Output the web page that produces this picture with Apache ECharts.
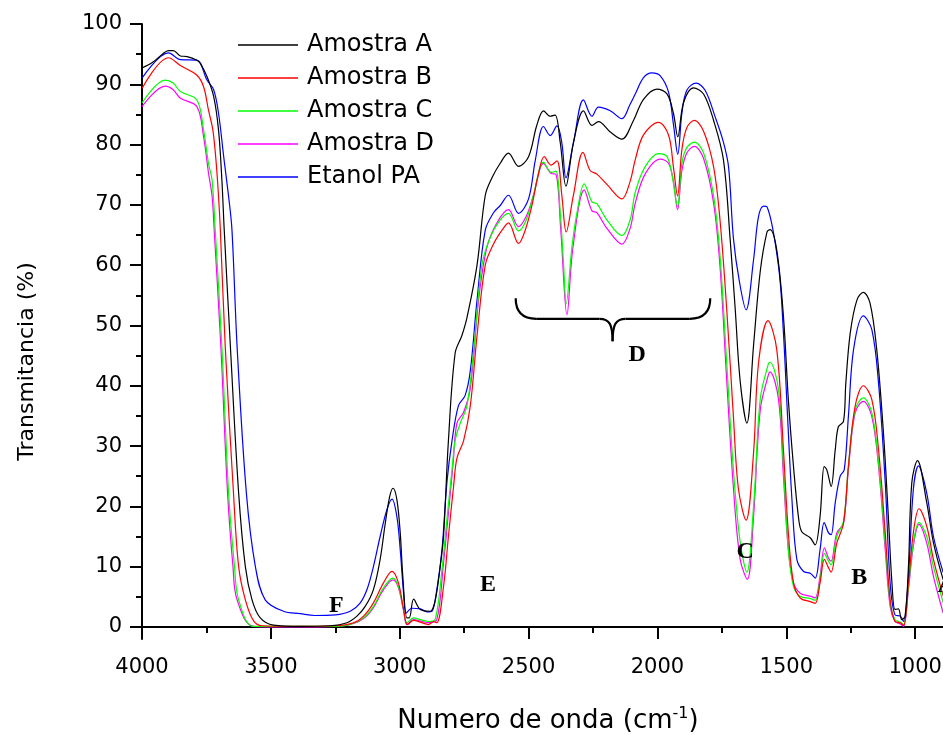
<!DOCTYPE html>
<html>
<head>
<meta charset="utf-8">
<script src="https://cdn.jsdelivr.net/npm/echarts@6/dist/echarts.min.js"></script>
<style>
  html, body { margin: 0; padding: 0; background: #fff; }
  #chart { width: 943px; height: 735px; }
</style>
</head>
<body>
<div id="chart"></div>
<script>
// espectros FTIR: [numero de onda, transmitancia]
var amostraA = [[4000,92.7],[3960,93.6],[3921,95.0],[3897,95.6],[3879,95.6],[3851,94.7],[3825,94.6],[3787,94.0],[3774,93.5],[3748,91.3],[3722,88.0],[3703,82.4],[3690,74.1],[3681,65.9],[3657,46.5],[3625,22.2],[3599,10.0],[3573,4.5],[3541,1.5],[3490,0.3],[3386,0.1],[3270,0.2],[3205,0.7],[3166,1.8],[3134,3.4],[3102,6.2],[3076,11.2],[3056,17.2],[3039,21.6],[3026,23.0],[3011,21.1],[2998,15.6],[2988,8.4],[2972,1.5],[2963,1.5],[2946,4.6],[2920,2.9],[2882,2.6],[2862,4.5],[2843,10],[2830,15],[2811,30.9],[2785,45.4],[2759,48.3],[2739,51.3],[2700,60.0],[2668,71.6],[2642,74.5],[2610,76.9],[2578,78.6],[2539,76.4],[2500,78.0],[2468,83.2],[2442,85.6],[2416,84.7],[2397,84.9],[2377,80.3],[2355,73.1],[2326,80.3],[2287,85.6],[2254,83.2],[2229,83.8],[2183,82.1],[2138,80.9],[2093,84.0],[2054,87.5],[2002,89.2],[1963,88.4],[1938,85.2],[1921,81.3],[1899,86.9],[1860,89.4],[1821,88.4],[1782,84.0],[1744,77.5],[1718,64.4],[1698,52.6],[1679,40.8],[1653,33.8],[1627,46.7],[1601,59.0],[1575,65.5],[1563,65.9],[1537,62.5],[1511,51.5],[1492,37.7],[1472,26.6],[1453,18.3],[1440,15.8],[1407,14.8],[1388,13.6],[1369,18.3],[1353,26.6],[1343,26.1],[1326,23.3],[1310,29.4],[1298,33.2],[1278,34.1],[1269,40.4],[1252,48.7],[1226,54.2],[1201,55.5],[1175,53.7],[1149,46.0],[1123,32.2],[1104,18.3],[1090,7.3],[1078,2.9],[1065,3.0],[1052,1.2],[1039,1.8],[1026,10.0],[1013,23.9],[991,27.6],[955,20.6],[929,14.0],[891,7.8]];

var amostraB = [[4000,89.3],[3897,94.4],[3851,93.1],[3787,91.5],[3761,89.6],[3742,85.7],[3725,82.4],[3712,76.9],[3703,71.4],[3696,65.9],[3677,46.5],[3645,22.2],[3625,10.0],[3599,4.5],[3567,1.0],[3534,0.2],[3400,0.1],[3250,0.2],[3179,0.7],[3140,1.8],[3102,4.0],[3063,7.3],[3030,9.2],[3005,7.3],[2985,2.9],[2970,0.4],[2946,1.1],[2920,0.8],[2888,0.4],[2869,0.9],[2856,0.7],[2830,6.7],[2811,15.0],[2791,23.3],[2778,28.0],[2752,30.9],[2726,36.7],[2700,48.3],[2668,60.0],[2636,63.5],[2603,65.8],[2578,67.0],[2539,63.6],[2513,65.8],[2487,69.9],[2465,74.5],[2439,78.0],[2413,76.6],[2390,77.3],[2371,71.6],[2354,65.5],[2326,71.6],[2289,78.7],[2261,75.7],[2235,75.1],[2196,73.4],[2138,71.0],[2106,73.9],[2086,77.5],[2054,81.6],[1996,83.7],[1957,81.6],[1938,76.3],[1922,71.5],[1905,79.2],[1886,82.8],[1857,84.0],[1821,82.2],[1782,76.3],[1757,67.4],[1731,52.6],[1705,34.8],[1686,23.0],[1656,17.7],[1627,28.9],[1608,43.7],[1571,50.8],[1537,46.0],[1511,29.4],[1492,15.6],[1472,7.3],[1446,4.8],[1407,4.2],[1388,3.9],[1369,7.3],[1352,11.2],[1336,9.8],[1326,9.1],[1304,13.9],[1278,17.2],[1259,26.6],[1233,36.6],[1201,40.0],[1168,37.7],[1142,29.4],[1116,15.6],[1097,4.5],[1078,0.9],[1058,0.7],[1045,0.2],[1026,7.3],[1007,15.6],[985,19.6],[955,16.7],[929,11.2],[891,5.1]];

var amostraC = [[4000,86.9],[3910,90.7],[3879,90.2],[3851,88.8],[3787,87.4],[3761,82.4],[3742,76.9],[3728,74.1],[3716,65.9],[3690,46.5],[3664,22.2],[3641,10.0],[3625,4.5],[3567,0.1],[3400,0.1],[3250,0.1],[3192,0.4],[3140,1.5],[3102,3.4],[3063,6.5],[3026,8.1],[3005,6.7],[2985,2.9],[2972,0.7],[2946,1.5],[2920,1.2],[2888,0.9],[2862,1.3],[2836,9.5],[2817,17.8],[2797,26.1],[2785,30.9],[2765,33.8],[2739,36.7],[2714,45.4],[2681,60.0],[2649,64.6],[2610,67.5],[2578,68.6],[2539,65.7],[2509,67.5],[2481,71.6],[2442,77.1],[2412,75.4],[2394,75.6],[2377,68.7],[2364,60.0],[2354,53.6],[2332,62.9],[2312,68.7],[2284,73.5],[2254,70.5],[2235,70.2],[2196,67.5],[2138,64.9],[2106,67.5],[2086,72.1],[2048,76.3],[1996,78.5],[1963,78.0],[1944,75.1],[1922,69.8],[1905,76.9],[1886,79.5],[1857,80.4],[1821,78.6],[1782,71.5],[1757,61.5],[1731,43.7],[1705,26.0],[1679,14.1],[1653,9.1],[1627,20.0],[1601,37.8],[1569,43.7],[1563,43.9],[1530,39.3],[1511,26.6],[1492,12.8],[1472,6.7],[1446,5.1],[1407,4.7],[1388,4.4],[1369,7.8],[1352,12.2],[1336,10.9],[1326,10.3],[1304,15.0],[1278,17.5],[1259,26.6],[1233,36.0],[1201,38.0],[1168,35.5],[1142,27.2],[1116,13.9],[1097,4.0],[1078,1.2],[1058,0.8],[1045,0.4],[1026,6.7],[1007,13.9],[985,17.3],[955,15.0],[929,10.0],[891,4.0]];

var amostraD = [[4000,86.3],[3910,89.7],[3879,89.1],[3851,87.7],[3787,86.3],[3761,81.3],[3742,75.3],[3728,71.4],[3720,65.9],[3694,46.5],[3668,22.2],[3647,10.0],[3631,4.5],[3567,0.1],[3400,0.0],[3250,0.1],[3192,0.4],[3140,1.4],[3102,3.2],[3063,6.2],[3026,7.8],[3005,6.5],[2985,2.7],[2972,0.4],[2946,1.2],[2920,1.0],[2888,0.7],[2856,1.2],[2830,10.6],[2811,18.9],[2793,27.0],[2778,33.8],[2752,35.6],[2726,39.6],[2694,54.2],[2662,62.9],[2623,67.0],[2578,69.2],[2539,66.4],[2509,68.1],[2481,71.6],[2442,76.9],[2412,75.2],[2394,75.1],[2375,65.8],[2351,51.8],[2328,62.9],[2284,72.5],[2254,69.0],[2235,68.7],[2196,66.1],[2138,63.5],[2106,66.1],[2086,70.3],[2048,75.1],[1989,77.6],[1957,76.9],[1938,73.9],[1922,69.2],[1905,75.7],[1886,78.6],[1857,79.7],[1821,77.7],[1782,70.3],[1757,59.7],[1731,40.8],[1705,23.0],[1679,11.2],[1651,7.9],[1627,18.3],[1601,36.0],[1569,41.9],[1563,42.3],[1530,37.7],[1511,25.0],[1492,12.8],[1472,7.3],[1446,5.6],[1407,5.1],[1388,4.8],[1369,8.4],[1352,13.1],[1336,11.4],[1326,10.9],[1304,15.6],[1278,17.2],[1259,26.1],[1233,35.5],[1201,37.4],[1168,34.9],[1142,26.6],[1116,12.8],[1097,3.4],[1078,0.9],[1058,0.5],[1045,0.1],[1026,6.2],[1007,13.4],[985,17.0],[955,13.9],[929,8.4],[891,2.3]];

var etanolPA = [[4000,91.0],[3897,95.2],[3851,94.1],[3787,94.0],[3748,90.7],[3722,89.1],[3703,85.2],[3683,78.0],[3664,71.4],[3651,65.9],[3631,46.5],[3595,22.2],[3560,10.0],[3522,4.5],[3451,2.6],[3386,2.2],[3330,1.9],[3250,2.0],[3192,2.6],[3153,4.0],[3127,6.2],[3102,10.0],[3076,15.0],[3050,19.4],[3030,21.2],[3011,18.3],[2998,12.8],[2985,5.6],[2975,2.3],[2953,3.1],[2920,3.0],[2894,2.5],[2875,2.6],[2856,6.2],[2836,12.8],[2817,23.9],[2797,30.9],[2772,36.7],[2746,38.4],[2726,42.5],[2700,54.2],[2668,65.8],[2636,68.7],[2610,69.9],[2578,71.6],[2539,68.6],[2500,71.0],[2474,77.4],[2442,83.0],[2416,81.5],[2390,83.1],[2371,80.3],[2355,74.5],[2326,80.3],[2287,87.4],[2254,84.7],[2229,86.2],[2183,85.6],[2138,84.3],[2106,86.7],[2086,88.4],[2054,91.1],[2022,91.9],[1989,91.4],[1957,88.7],[1938,83.4],[1921,78.4],[1905,85.2],[1886,89.0],[1850,90.2],[1815,89.0],[1776,84.6],[1744,80.4],[1724,76.3],[1705,64.4],[1682,57.3],[1656,52.6],[1627,60.9],[1608,68.0],[1588,69.8],[1575,69.7],[1530,59.8],[1511,48.7],[1495,34.9],[1478,21.1],[1459,11.2],[1433,9.2],[1407,8.9],[1388,8.1],[1369,12.8],[1353,17.3],[1336,15.6],[1326,15.3],[1310,20.6],[1291,25.0],[1275,26.1],[1259,34.9],[1239,46.0],[1201,51.6],[1168,49.3],[1142,40.4],[1116,23.9],[1097,7.3],[1078,2.0],[1058,1.8],[1045,0.9],[1026,8.4],[1007,22.8],[987,26.7],[955,22.2],[929,15.0],[891,9.0]];

var seriesNames = ['Amostra A', 'Amostra B', 'Amostra C', 'Amostra D', 'Etanol PA'];
var seriesColors = ['#000000', '#ff0000', '#00ff00', '#ff00ff', '#0000ff'];
var seriesData = [amostraA, amostraB, amostraC, amostraD, etanolPA];

var yMajor = [0, 10, 20, 30, 40, 50, 60, 70, 80, 90, 100];
var yMinor = [5, 15, 25, 35, 45, 55, 65, 75, 85, 95];

// letras das regioes e chave da regiao D
var bandLetters = ['F', 'E', 'D', 'C', 'B', 'A'];
var bandPos = [[3246, 3.5], [2657, 7.0], [2079, 45.1], [1660, 12.5], [1217, 8.2], [880, 6.9]];
var braceEnds = [2550, 1795];
var braceMid = 2174;
var braceLevels = [54.5, 51.1, 47.4]; // pontas, traco, bico

var chart = echarts.init(document.getElementById('chart'));
var font = 'DejaVu Sans';

var series = seriesData.map(function (d, i) {
    return {
        name: seriesNames[i],
        type: 'line',
        data: d,
        symbol: 'none',
        smooth: 0.35,
        lineStyle: { color: seriesColors[i], width: 1.2 },
        itemStyle: { color: seriesColors[i] },
        z: 5 - i
    };
});

// letras
series.push({
    name: 'letras',
    type: 'custom',
    silent: true,
    clip: false,
    data: bandPos,
    renderItem: function (params, api) {
        var p = api.coord([api.value(0), api.value(1)]);
        return {
            type: 'text',
            x: p[0],
            y: p[1],
            style: {
                text: bandLetters[params.dataIndex],
                fill: '#000',
                font: 'bold 24px "Liberation Serif"',
                align: 'center',
                verticalAlign: 'middle'
            }
        };
    },
    z: 10
});

// chave
series.push({
    name: 'chave',
    type: 'custom',
    silent: true,
    clip: false,
    data: [[braceMid, braceLevels[2]]],
    renderItem: function (params, api) {
        var pL = api.coord([braceEnds[0], braceLevels[0]]);
        var pR = api.coord([braceEnds[1], braceLevels[0]]);
        var yh = api.coord([braceMid, braceLevels[1]])[1];
        var cM = api.coord([braceMid, braceLevels[2]]);
        var r = yh - pL[1];
        var st = { stroke: '#000', lineWidth: 2.2, fill: null };
        return {
            type: 'group',
            children: [
                { type: 'bezierCurve', shape: { x1: pL[0], y1: pL[1], cpx1: pL[0], cpy1: yh, x2: pL[0] + r, y2: yh }, style: st },
                { type: 'line', shape: { x1: pL[0] + r, y1: yh, x2: cM[0] - 13, y2: yh }, style: st },
                { type: 'bezierCurve', shape: { x1: cM[0] - 13, y1: yh, cpx1: cM[0] - 3, cpy1: yh, cpx2: cM[0], cpy2: yh + 6, x2: cM[0], y2: cM[1] }, style: st },
                { type: 'bezierCurve', shape: { x1: cM[0] + 13, y1: yh, cpx1: cM[0] + 3, cpy1: yh, cpx2: cM[0], cpy2: yh + 6, x2: cM[0], y2: cM[1] }, style: st },
                { type: 'line', shape: { x1: cM[0] + 13, y1: yh, x2: pR[0] - r, y2: yh }, style: st },
                { type: 'bezierCurve', shape: { x1: pR[0] - r, y1: yh, cpx1: pR[0], cpy1: yh, x2: pR[0], y2: pR[1] }, style: st }
            ]
        };
    },
    z: 10
});

var xCommon = {
    type: 'value',
    inverse: true,
    min: 500,
    max: 4000,
    interval: 500,
    splitLine: { show: false },
    axisLine: { lineStyle: { color: '#000', width: 2 } }
};

var option = {
    animation: false,
    backgroundColor: '#fff',
    // o eixo continua alem da borda direita da figura
    grid: { left: 142, top: 24, width: 902, bottom: 96, outerBoundsMode: 'none', containLabel: false },
    legend: {
        data: seriesNames,
        orient: 'vertical',
        left: 238,
        top: 33,
        padding: 0,
        icon: 'rect',
        itemWidth: 60,
        itemHeight: 1.5,
        itemGap: 9,
        textStyle: { fontFamily: font, fontSize: 24, lineHeight: 24, color: '#000', padding: [0, 0, 0, 4] }
    },
    xAxis: [
        Object.assign({}, xCommon, {
            position: 'bottom',
            name: 'Numero de onda (cm{sup|-1})',
            nameLocation: 'middle',
            nameGap: 67,
            nameTextStyle: {
                fontFamily: font, fontSize: 26, color: '#000',
                padding: [0, 90, 0, 0],
                rich: { sup: { fontFamily: font, fontSize: 16, verticalAlign: 'top', padding: [0, 0, 14, 0] } }
            },
            axisTick: { show: true, length: 12, lineStyle: { color: '#000', width: 2 } },
            minorTick: { show: true, splitNumber: 2, length: 6, lineStyle: { color: '#000', width: 2 } },
            axisLabel: {
                margin: 18, fontFamily: font, fontSize: 21, color: '#000',
                formatter: function (v) { return String(v); }
            }
        }),
        Object.assign({}, xCommon, {
            position: 'top',
            axisTick: { show: true, inside: true, length: 4, lineStyle: { color: '#000', width: 1.5 } },
            minorTick: { show: true, splitNumber: 2, length: 4, lineStyle: { color: '#000', width: 1.5 } },
            axisLabel: { show: false }
        })
    ],
    yAxis: [
        {
            type: 'value',
            min: -2,
            max: 100,
            position: 'left',
            name: 'Transmitancia (%)',
            nameLocation: 'middle',
            nameRotate: 90,
            nameGap: 104,
            nameTextStyle: { fontFamily: font, fontSize: 22, color: '#000', padding: [0, 60, 0, 0] },
            splitLine: { show: false },
            axisLine: { lineStyle: { color: '#000', width: 2 } },
            axisTick: { show: true, length: 12, customValues: yMajor, lineStyle: { color: '#000', width: 2 } },
            axisLabel: { margin: 20, customValues: yMajor, fontFamily: font, fontSize: 21, color: '#000' }
        },
        {
            type: 'value',
            min: -2,
            max: 100,
            position: 'left',
            splitLine: { show: false },
            axisLine: { show: false },
            axisTick: { show: true, length: 6, customValues: yMinor, lineStyle: { color: '#000', width: 2 } },
            axisLabel: { show: false }
        }
    ],
    series: series
};

chart.setOption(option);
</script>
</body>
</html>
